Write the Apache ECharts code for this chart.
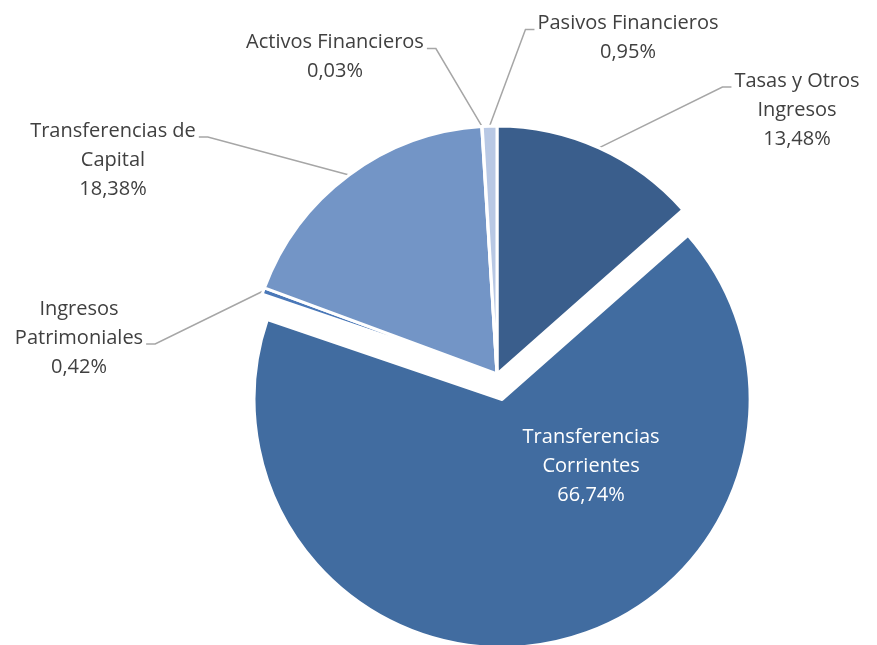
<!DOCTYPE html>
<html>
<head>
<meta charset="utf-8">
<script src="https://cdn.jsdelivr.net/npm/echarts@6/dist/echarts.min.js"></script>
<style>
  html, body { margin: 0; padding: 0; background: #fff; }
  #chart { width: 877px; height: 645px; }
</style>
</head>
<body>
<div id="chart"></div>
<script>
// slices, clockwise from 12 o'clock
var categories = ['Tasas y Otros\nIngresos', 'Transferencias\nCorrientes', 'Ingresos\nPatrimoniales', 'Transferencias de\nCapital', 'Activos Financieros', 'Pasivos Financieros']
var shares = [13.48, 66.74, 0.42, 18.38, 0.03, 0.95]
var sliceColors = ['#3a5e8c', '#416ca0', '#4a78b8', '#7395c6', '#a9bcdb', '#b8c8e4']

// where each outside label block sits (centre), and where its leader line attaches
var labelSpots = [
  { x: 797, y: 110, side: 'left', row: 0 },
  null,
  { x: 79, y: 338, side: 'right', row: 1 },
  { x: 113, y: 160, side: 'right', row: 0 },
  { x: 335, y: 57, side: 'right', row: 0 },
  { x: 628, y: 38, side: 'left', row: 0 }
]
var LINE_H = 29

var chart = echarts.init(document.getElementById('chart'), null, { renderer: 'canvas' })

var pieData = categories.map(function(name, i) {
  var item = {
    name: name,
    value: shares[i],
    itemStyle: { color: sliceColors[i] }
  }
  if (i === 1) {
    // exploded slice; label inside, nudged right with padding and up with blank rows
    item.selected = true
    item.label = {
      position: 'inside',
      color: '#ffffff',
      padding: [0, 0, 0, 128],
      formatter: function(p) {
        return p.name + '\n' + p.value.toFixed(2).replace('.', ',') + '%' + '\n \n \n \n '
      }
    }
    item.labelLine = { show: false }
  }
  return item
})

chart.setOption({
  backgroundColor: '#ffffff',
  animation: false,
  series: [
    {
      type: 'pie',
      center: [497, 374],
      radius: 248,
      startAngle: 90,
      clockwise: true,
      avoidLabelOverlap: false,
      selectedMode: 'single',
      selectedOffset: 26,
      itemStyle: { borderColor: '#ffffff', borderWidth: 3 },
      select: { itemStyle: { borderColor: '#ffffff', borderWidth: 3 } },
      emphasis: { disabled: true },
      label: {
        show: true,
        position: 'outside',
        color: '#404040',
        fontFamily: 'Open Sans',
        fontSize: 20,
        lineHeight: LINE_H,
        align: 'center',
        padding: 0,
        formatter: function(p) {
          return p.name + '\n' + p.value.toFixed(2).replace('.', ',') + '%'
        }
      },
      labelLine: {
        show: true,
        length: 20,
        length2: 10,
        lineStyle: { color: '#a6a6a6', width: 1.5 }
      },
      labelLayout: function(params) {
        var spot = labelSpots[params.dataIndex]
        if (!spot) return {}
        var out = { x: spot.x, y: spot.y, align: 'center', verticalAlign: 'middle' }
        var nLines = categories[params.dataIndex].split('\n').length + 1
        var h = nLines * LINE_H
        var w = params.labelRect.width
        var rowY = spot.y - h / 2 + LINE_H * (spot.row + 0.5) + 6
        var endX = spot.side === 'left' ? spot.x - w / 2 - 3 : spot.x + w / 2 + 3
        var elbowX = spot.side === 'left' ? endX - 9 : endX + 9
        var start = params.labelLinePoints[0]
        out.labelLinePoints = [start, [elbowX, rowY], [endX, rowY]]
        return out
      },
      data: pieData
    }
  ]
})
</script>
</body>
</html>
